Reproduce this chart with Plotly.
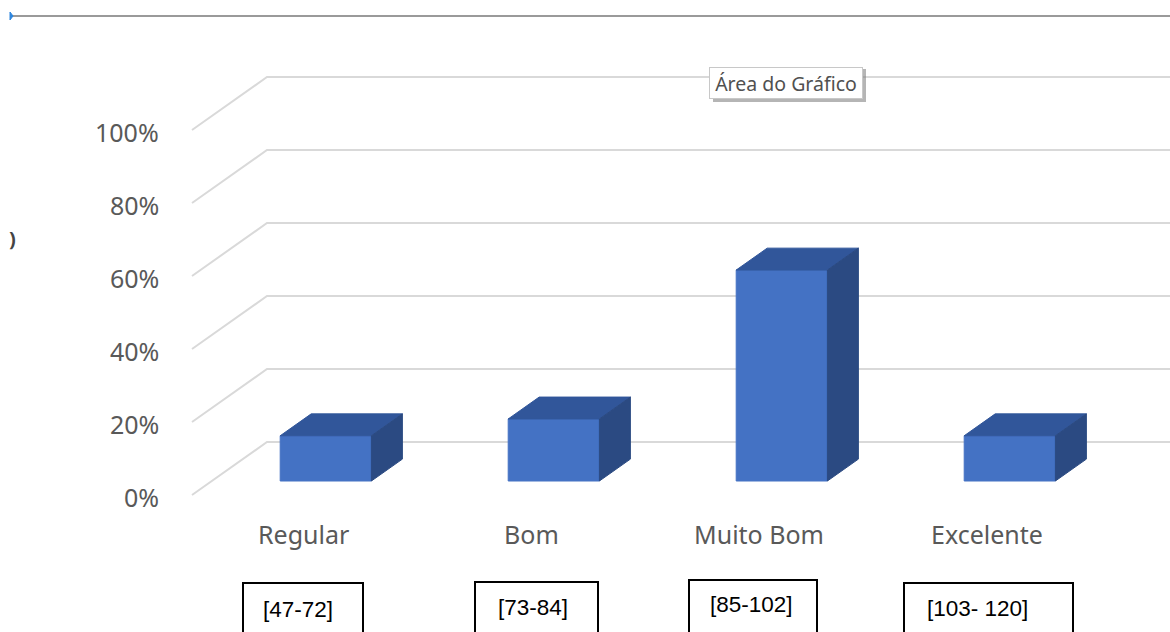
import plotly.graph_objects as go

# ---- data ----
categories = ["Regular", "Bom", "Muito Bom", "Excelente"]
values = [12.4, 17.0, 57.8, 12.4]          # percent
tick_values = [0, 20, 40, 60, 80, 100]
tick_labels = ["0%", "20%", "40%", "60%", "80%", "100%"]
ranges = ["[47-72]", "[73-84]", "[85-102]", "[103- 120]"]

W, H = 1170, 632
# axis mapping (projected oblique 3D)
X0, XU = 306.0, 228.0          # pixel of category 0 centre (front plane), px per category
Y0, YU = 495.0, 3.65           # pixel of 0% (front plane), px per percent
DX = 75.0 / XU                 # depth shift in x units (full depth)
DY = 53.0 / YU                 # depth shift in y units (full depth)

def proj(x, y, d):
    return x + d * DX, y + d * DY

def ppx(p):   # pixel -> paper x
    return p / W

def ppy(p):   # pixel -> paper y
    return 1 - p / H

fig = go.Figure()

grid_col = "#D9D9D9"
# gridlines: side wall diagonal + back wall horizontal
for v in tick_values:
    xa, ya = proj(-0.5, v, 0)
    xb, yb = proj(-0.5, v, 1)
    xc, yc = proj(4.2, v, 1)
    fig.add_trace(go.Scatter(x=[xa, xb, xc], y=[ya, yb, yc], mode="lines",
                             line=dict(color=grid_col, width=2),
                             hoverinfo="skip", showlegend=False))

front_col = "#4472C4"
top_col = "#31569A"
side_col = "#2B4A82"
hw = 0.2
d0, d1 = 0.264, 0.677

for i, v in enumerate(values):
    c = i
    faces = []
    # front
    pts = [proj(c - hw, 0, d0), proj(c + hw, 0, d0), proj(c + hw, v, d0), proj(c - hw, v, d0)]
    faces.append((pts, front_col))
    # top
    pts = [proj(c - hw, v, d0), proj(c + hw, v, d0), proj(c + hw, v, d1), proj(c - hw, v, d1)]
    faces.append((pts, top_col))
    # right side
    pts = [proj(c + hw, 0, d0), proj(c + hw, v, d0), proj(c + hw, v, d1), proj(c + hw, 0, d1)]
    faces.append((pts, side_col))
    for pts, col in faces:
        xs = [p[0] for p in pts] + [pts[0][0]]
        ys = [p[1] for p in pts] + [pts[0][1]]
        fig.add_trace(go.Scatter(x=xs, y=ys, mode="lines", fill="toself",
                                 fillcolor=col, line=dict(color=col, width=1),
                                 hoverinfo="skip", showlegend=False))

annotations = []
# y tick labels
for v, t in zip(tick_values, tick_labels):
    annotations.append(dict(x=ppx(161), xref="paper", y=v, yref="y", text=t,
                            showarrow=False, xanchor="right", yanchor="middle", yshift=-2,
                            font=dict(family="Noto Sans", size=25, color="#595959")))
# category labels
for i, c in enumerate(categories):
    annotations.append(dict(x=i, xref="x", y=(Y0 - 534) / YU, yref="y", text=c,
                            showarrow=False, xanchor="center", yanchor="middle", xshift=-3,
                            font=dict(family="Noto Sans", size=25, color="#595959")))

# range boxes
box_px = [(243, 363, 583), (475, 598, 582), (689, 817, 580), (904, 1073, 583)]
text_px = [(261, 609), (496, 607), (708, 604), (925, 608)]
shapes = []
for (l, r, t), (tx, ty), s in zip(box_px, text_px, ranges):
    shapes.append(dict(type="rect", xref="paper", yref="paper",
                       x0=ppx(l), x1=ppx(r), y0=ppy(t), y1=ppy(H + 10),
                       line=dict(color="black", width=2), fillcolor="white", layer="below"))
    annotations.append(dict(x=ppx(tx), y=ppy(ty), xref="paper", yref="paper", text=s,
                            showarrow=False, xanchor="left", yanchor="middle",
                            font=dict(family="Liberation Sans", size=22.5, color="#000000")))

# top line with small blue marker
shapes.append(dict(type="line", xref="paper", yref="paper", x0=ppx(11), x1=ppx(W + 5),
                   y0=ppy(16), y1=ppy(16), line=dict(color="#9A9A9A", width=2)))
shapes.append(dict(type="path", xref="paper", yref="paper",
                   path=f"M {ppx(10)} {ppy(12)} L {ppx(13)} {ppy(16)} L {ppx(10)} {ppy(20)} Z",
                   line=dict(color="#2E86DE", width=1), fillcolor="#2E86DE"))

# tooltip shadow
shapes.append(dict(type="rect", xref="paper", yref="paper",
                   x0=ppx(713), x1=ppx(866), y0=ppy(69), y1=ppy(102),
                   line=dict(width=0), fillcolor="rgba(120,120,120,0.55)", layer="above"))
annotations.append(dict(x=ppx(786), y=ppy(83), xref="paper", yref="paper",
                        text="Área do Gráfico", showarrow=False,
                        xanchor="center", yanchor="middle",
                        bgcolor="white", bordercolor="#C8C8C8", borderwidth=1, borderpad=3,
                        width=146, height=24,
                        font=dict(family="Noto Sans", size=19.5, color="#505050")))
# stray left-edge glyph
annotations.append(dict(x=ppx(12), y=ppy(238), xref="paper", yref="paper", text="<b>)</b>",
                        showarrow=False, xanchor="center", yanchor="middle",
                        font=dict(family="Noto Sans", size=20, color="#444444")))

fig.update_layout(
    width=W, height=H,
    margin=dict(l=0, r=0, t=0, b=0),
    paper_bgcolor="white", plot_bgcolor="white",
    xaxis=dict(range=[-X0 / XU, (W - X0) / XU], visible=False, fixedrange=True),
    yaxis=dict(range=[(Y0 - H) / YU, Y0 / YU], visible=False, fixedrange=True),
    shapes=shapes, annotations=annotations, showlegend=False,
)

fig.write_html("out.html")
